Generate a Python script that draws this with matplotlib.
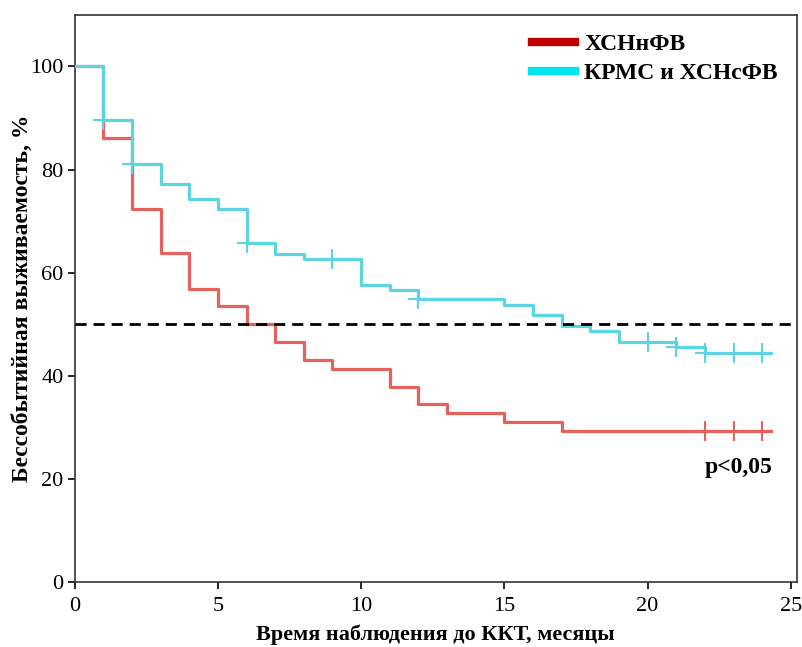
import matplotlib.pyplot as plt
from matplotlib.lines import Line2D

plt.rcParams['font.family'] = ['Liberation Serif', 'DejaVu Serif']

# ХСНнФВ
red_t = [0, 1, 2, 3, 4, 5, 6, 7, 8, 9, 11, 12, 13, 15, 17, 24.3]
red_s = [100, 86.2, 72.4, 63.8, 56.9, 53.5, 50.0, 46.6, 43.1, 41.4, 37.9, 34.5, 32.8, 31.0, 29.3, 29.3]
red_cens_t = [22, 23, 24]
red_cens_s = [29.3, 29.3, 29.3]

# КРМС и ХСНсФВ
cyan_t = [0, 1, 2, 3, 4, 5, 6, 7, 8, 10, 11, 12, 15, 16, 17, 18, 19, 21, 22, 24.3]
cyan_s = [100, 89.6, 81.0, 77.2, 74.3, 72.4, 65.7, 63.7, 62.6, 57.7, 56.7, 54.8, 53.7, 51.7, 49.7, 48.6, 46.6, 45.6, 44.5, 44.5]
cyan_cens_t = [1, 2, 6, 9, 12, 20, 21, 22, 23, 24]
cyan_cens_s = [89.6, 81.0, 65.7, 62.6, 54.8, 46.6, 45.6, 44.5, 44.5, 44.5]

red = '#E4625B'
cyan = '#5CD5E1'

fig = plt.figure(figsize=(8.03, 6.47), dpi=100)
ax = fig.add_axes([0.093, 0.1005, 0.899, 0.8765])

ax.step(red_t, red_s, where='post', color=red, lw=2.3, zorder=2)
ax.plot(red_cens_t, red_cens_s, ls='none', marker='+', ms=14, mew=1.5, color=red, zorder=2)
ax.step(cyan_t, cyan_s, where='post', color=cyan, lw=2.3, zorder=3)
ax.plot(cyan_cens_t, cyan_cens_s, ls='none', marker='+', ms=14, mew=1.5, color=cyan, zorder=3)

ax.axhline(50, color='black', lw=2, ls=(0, (4, 2.5)), zorder=4)

ax.set_xlim(0, 25.2)
ax.set_ylim(0, 110)
ax.set_xticks([0, 5, 10, 15, 20, 25])
ax.set_yticks([0, 20, 40, 60, 80, 100])
ax.tick_params(labelsize=16, direction='out', length=5, width=1.2)
ax.tick_params(axis='x', pad=6)
ax.tick_params(axis='y', pad=3)
for s in ax.spines.values():
    s.set_linewidth(1.2)
    s.set_color('#333333')

ax.set_xlabel('Время наблюдения до ККТ, месяцы', fontsize=16, fontweight='bold', labelpad=6)
ax.set_ylabel('Бессобытийная выживаемость, %', fontsize=17, fontweight='bold', labelpad=-2)

ax.text(24.37, 22.3, 'p<0,05', fontsize=17, fontweight='bold', ha='right', va='center')

handles = [Line2D([], [], color='#C00000', lw=6),
           Line2D([], [], color='#00E5EE', lw=6)]
ax.legend(handles, ['ХСНнФВ', 'КРМС и ХСНсФВ'], loc='upper right', frameon=False,
          prop={'size': 17, 'weight': 'bold'}, handlelength=1.8, handletextpad=0.4,
          borderaxespad=0.4, labelspacing=0.3)

fig.savefig('out.png', dpi=100)
